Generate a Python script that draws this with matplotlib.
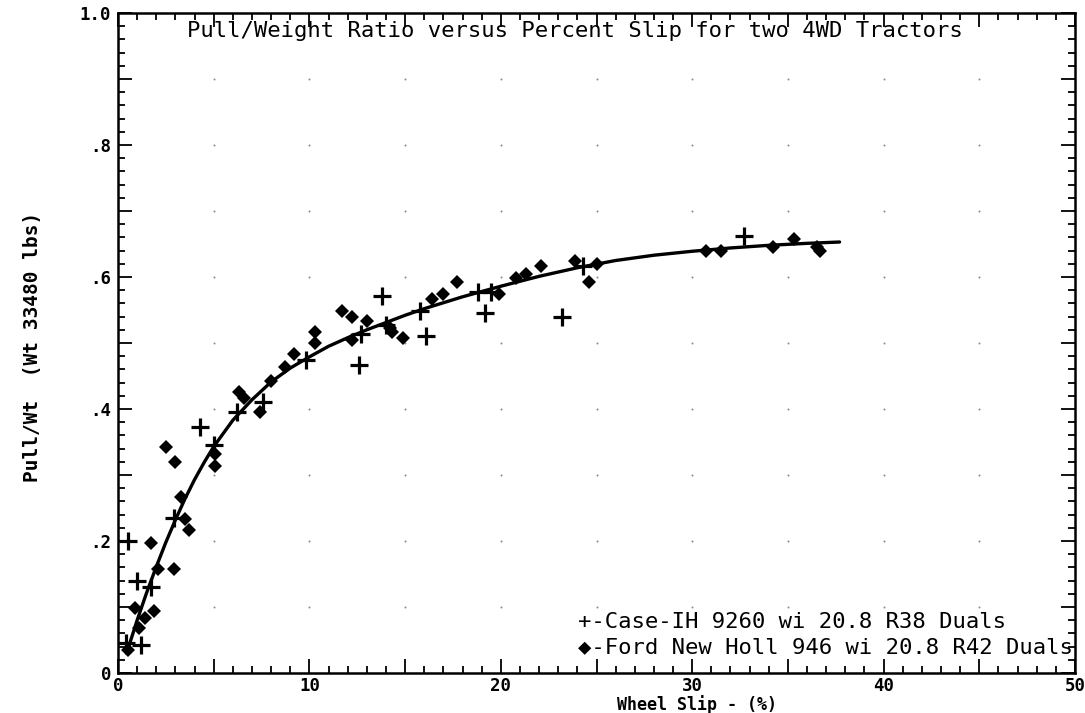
import matplotlib
matplotlib.use("Agg")
import matplotlib.pyplot as plt
from matplotlib.ticker import MultipleLocator, FuncFormatter
import numpy as np

# ---- data ----
case_x = [0.4, 0.5, 1.0, 1.2, 1.7, 2.9, 4.3, 5.0, 6.2, 7.6, 9.8, 12.6, 12.7,
          13.8, 14.0, 15.8, 16.1, 18.8, 19.2, 19.5, 23.2, 24.3, 32.7]
case_y = [0.045, 0.20, 0.14, 0.042, 0.13, 0.235, 0.373, 0.346, 0.396, 0.41,
          0.475, 0.466, 0.513, 0.571, 0.528, 0.548, 0.51, 0.578, 0.546, 0.578,
          0.539, 0.616, 0.662]

ford_x = [0.5, 0.9, 1.1, 1.4, 1.7, 1.9, 2.1, 2.5, 2.9, 3.0, 3.3, 3.5, 3.7,
          5.05, 5.05, 6.3, 6.6, 7.4, 8.0, 8.7, 9.2, 10.3, 10.3, 11.7, 12.2,
          12.2, 13.0, 14.2, 14.3, 14.9, 16.4, 17.0, 17.7, 19.9, 20.8, 21.3,
          22.1, 23.9, 24.6, 25.0, 30.7, 31.5, 34.2, 35.3, 36.5, 36.7]
ford_y = [0.035, 0.099, 0.068, 0.083, 0.197, 0.094, 0.158, 0.343, 0.158,
          0.319, 0.267, 0.234, 0.217, 0.332, 0.314, 0.426, 0.417, 0.395,
          0.443, 0.464, 0.483, 0.516, 0.50, 0.549, 0.539, 0.505, 0.534,
          0.523, 0.517, 0.507, 0.566, 0.574, 0.592, 0.575, 0.599, 0.604,
          0.616, 0.624, 0.593, 0.62, 0.639, 0.639, 0.646, 0.658, 0.645, 0.639]

# fitted curve
curve_x = [0.45, 1.0, 1.5, 2.0, 2.5, 3.0, 3.5, 4.0, 4.5, 5.0, 6.0, 7.0, 8.0,
           9.0, 10.0, 11.0, 12.0, 13.0, 14.0, 15.0, 16.0, 17.0, 18.0, 19.0,
           20.0, 22.0, 24.0, 26.0, 28.0, 30.0, 32.0, 34.0, 36.0, 37.7]
curve_y = [0.030, 0.080, 0.122, 0.161, 0.198, 0.232, 0.264, 0.293, 0.319,
           0.343, 0.383, 0.414, 0.441, 0.462, 0.479, 0.495, 0.508, 0.520,
           0.531, 0.542, 0.552, 0.561, 0.570, 0.578, 0.586, 0.601, 0.614,
           0.625, 0.633, 0.639, 0.644, 0.648, 0.651, 0.653]

x_ticklabels = ["0", "10", "20", "30", "40", "50"]
y_ticklabels = {0.0: "0", 0.2: ".2", 0.4: ".4", 0.6: ".6", 0.8: ".8", 1.0: "1.0"}

title = "Pull/Weight Ratio versus Percent Slip for two 4WD Tractors"
legend_case = "+-Case-IH 9260 wi 20.8 R38 Duals"
legend_ford = "\u25c6-Ford New Holl 946 wi 20.8 R42 Duals"
xlabel = "Wheel Slip - (%)"
ylabel = "Pull/Wt  (Wt 33480 lbs)"

# ---- figure ----
W, H = 1085, 713
fig = plt.figure(figsize=(W / 100, H / 100), dpi=100)
ax = fig.add_axes([118 / W, 40 / H, (1075 - 118) / W, (673 - 13) / H])
ax.set_xlim(0, 50)
ax.set_ylim(0, 1.0)

mono = ["DejaVu Sans Mono", "DejaVu Sans"]

# grid dots
gx, gy = np.meshgrid(np.arange(5, 50, 5), np.arange(0.1, 1.0, 0.1))
ax.scatter(gx.ravel(), gy.ravel(), s=2, color="#888888", zorder=1, linewidths=0)

ax.plot(curve_x, curve_y, color="black", lw=2.4, solid_capstyle="round",
        solid_joinstyle="round", zorder=3)
ax.plot(case_x, case_y, linestyle="none", marker="+", ms=13, mew=2.3,
        color="black", zorder=4)
ax.plot(ford_x, ford_y, linestyle="none", marker="D", ms=7, mew=0,
        color="black", zorder=4)

# spines and ticks
for s in ax.spines.values():
    s.set_linewidth(1.8)
ax.xaxis.set_major_locator(MultipleLocator(5))
ax.xaxis.set_minor_locator(MultipleLocator(1))
ax.yaxis.set_major_locator(MultipleLocator(0.1))
ax.yaxis.set_minor_locator(MultipleLocator(0.02))
ax.tick_params(which="both", direction="in", top=True, right=True,
               width=1.3, colors="black")
ax.tick_params(which="major", length=10)
ax.tick_params(which="minor", length=5)

def xfmt(v, pos):
    i = int(round(v))
    if i % 10 == 0:
        return x_ticklabels[i // 10]
    return ""

def yfmt(v, pos):
    key = round(v, 1)
    if abs(v - key) < 1e-6 and key in y_ticklabels:
        return y_ticklabels[key]
    return ""

ax.xaxis.set_major_formatter(FuncFormatter(xfmt))
ax.yaxis.set_major_formatter(FuncFormatter(yfmt))
for lab in ax.get_xticklabels() + ax.get_yticklabels():
    lab.set_fontfamily(mono)
    lab.set_fontweight("bold")
    lab.set_fontsize(12.5)
ax.tick_params(axis="x", pad=3)
ax.tick_params(axis="y", pad=5)

# title inside axes
fig.text(0.5 * (185 + 965) / W, 1 - 31 / H, title,
         ha="center", va="center", fontsize=16, family=mono, color="black")

# legend text
fig.text(578 / W, 1 - 622 / H, legend_case, ha="left", va="center",
         fontsize=16, family=mono, color="black")
fig.text(578 / W, 1 - 647 / H, legend_ford, ha="left", va="center",
         fontsize=16, family=mono, color="black")

# axis labels
fig.text(697 / W, 1 - 705 / H, xlabel, ha="center", va="center",
         fontsize=12, family=mono, fontweight="bold")
fig.text(33 / W, 1 - 347 / H, ylabel, ha="center", va="center", rotation=90,
         fontsize=14, family=mono, fontweight="bold")

fig.savefig("out.png", dpi=100)
